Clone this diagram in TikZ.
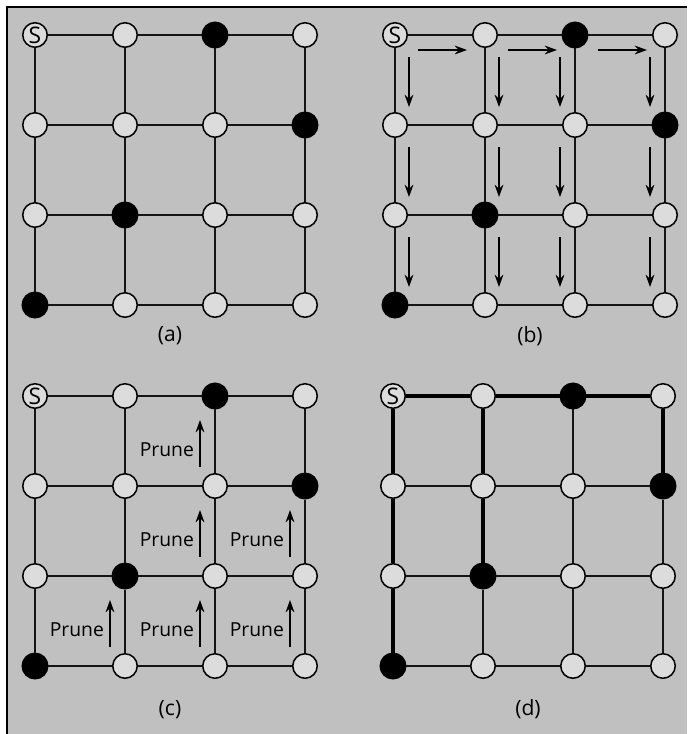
\documentclass[tikz,border=0pt]{standalone}
\usepackage{fontspec}
\setmainfont{Open Sans}
\usepackage{tikz}
\usetikzlibrary{
  positioning,
  arrows.meta,
  calc
}
\definecolor{panelbg}{RGB}{192,192,192}
\definecolor{nodefill}{RGB}{220,220,220}
\definecolor{edgecolor}{RGB}{20,20,20}
\tikzset{
  graynode/.style={
    circle, draw=black, fill=nodefill, line width=0.85pt,
    minimum size=0.49cm, inner sep=0pt,
    font=\fontsize{13}{14}\selectfont
  },
  blacknode/.style={
    circle, draw=black, fill=black, line width=0.85pt,
    minimum size=0.51cm, inner sep=0pt
  },
  gridedge/.style={
    draw=edgecolor, line width=1pt
  },
  treeedge/.style={
    draw=black, line width=2.5pt
  },
  flowarrow/.style={
    -{Stealth[length=7pt,width=5pt]}, line width=0.9pt, draw=black
  },
  prunelabel/.style={
    font=\fontsize{11}{13}\selectfont, anchor=east, inner sep=1pt
  },
  panellabel/.style={
    font=\fontsize{12}{14}\selectfont
  }
}
\begin{document}
\begin{tikzpicture}[x=0.02cm, y=-0.02cm]

    % Frame and background
    \useasboundingbox (0,0) rectangle (687,734);
    \fill[panelbg] (7,7) rectangle (687,734);
    \draw[line width=1pt] (7,734) -- (7,7) -- (687,7);

    % Nodes of the four grids
    \foreach \p/\ox/\oy in {a/35/35, b/395/35, c/35/396, d/393/396} {
      \foreach \i in {0,...,3} {
        \foreach \j in {0,...,3} {
          \pgfmathtruncatemacro\isblack{(\i==2&&\j==0)||(\i==3&&\j==1)||(\i==1&&\j==2)||(\i==0&&\j==3)}
          \pgfmathtruncatemacro\isstart{\i==0&&\j==0}
          \ifnum\isblack=1
            \node[blacknode] (\p-\i-\j) at (\ox+90*\i, \oy+90*\j) {};
          \else
            \node[graynode] (\p-\i-\j) at (\ox+90*\i, \oy+90*\j) {\ifnum\isstart=1 S\fi};
          \fi
        }
      }
    }

    % Grid edges
    \foreach \p in {a,b,c,d} {
      \foreach \i/\k in {0/1,1/2,2/3} {
        \foreach \j in {0,...,3} {
          \draw[gridedge] (\p-\i-\j) -- (\p-\k-\j);
          \draw[gridedge] (\p-\j-\i) -- (\p-\j-\k);
        }
      }
    }

    % Panel (b): flow arrows
    \foreach \i/\k in {0/1,1/2,2/3}
      \draw[flowarrow] ([shift={(23,15)}]b-\i-0.center) -- ([shift={(-18,15)}]b-\k-0.center);
    \foreach \j/\m in {0/1,1/2,2/3} {
      \foreach \i/\dx in {0/14,1/14,2/-15,3/-15}
        \draw[flowarrow] ([shift={(\dx,22)}]b-\i-\j.center) -- ([shift={(\dx,-18)}]b-\i-\m.center);
    }

    % Panel (c): pruned branches
    \foreach \i/\j/\m in {2/1/0, 2/2/1, 3/2/1, 1/3/2, 2/3/2, 3/3/2} {
      \draw[flowarrow] ([shift={(-15,-19)}]c-\i-\j.center) -- ([shift={(-15,24)}]c-\i-\m.center)
        coordinate[midway] (cut-\i-\j);
      \node[prunelabel] (prune-\i-\j) at ([shift={(-4,6)}]cut-\i-\j) {Prune};
    }

    % Panel (d): resulting tree
    \draw[treeedge] (d-0-0) -- (d-1-0) -- (d-2-0) -- (d-3-0) -- (d-3-1);
    \draw[treeedge] (d-0-0) -- (d-0-1) -- (d-0-2) -- (d-0-3);
    \draw[treeedge] (d-1-0) -- (d-1-1) -- (d-1-2);

    % Panel captions
    \node[panellabel] (lab-a) at ($(a-1-3)!0.5!(a-2-3)+(0,31)$) {(a)};
    \node[panellabel] (lab-b) at ($(b-1-3)!0.5!(b-2-3)+(0,31)$) {(b)};
    \node[panellabel] (lab-c) at ($(c-1-3)!0.5!(c-2-3)+(0,44)$) {(c)};
    \node[panellabel] (lab-d) at ($(d-1-3)!0.5!(d-2-3)+(0,43)$) {(d)};

  \end{tikzpicture}
\end{document}
